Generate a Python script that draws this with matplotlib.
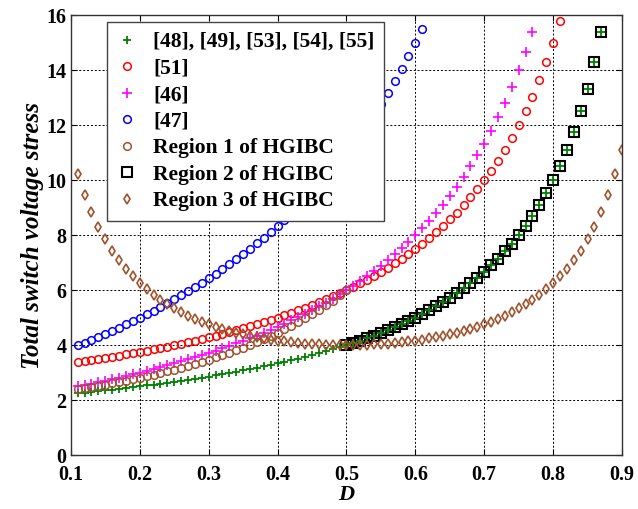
import numpy as np
import matplotlib
matplotlib.use('Agg')
from matplotlib import pyplot as plt

plt.rcParams['font.family'] = ['Liberation Serif', 'DejaVu Serif']
plt.rcParams['font.weight'] = 'bold'

# duty ratio, step 0.01 from 0.11
d_start = 0.11
d_step = 0.01

# [48], [49], [53], [54], [55]  (0.11 ... 0.87)
ref48 = [2.247, 2.273, 2.299, 2.326, 2.353, 2.381, 2.410, 2.439, 2.469, 2.500,
         2.532, 2.564, 2.597, 2.632, 2.667, 2.703, 2.740, 2.778, 2.817, 2.857,
         2.899, 2.941, 2.985, 3.030, 3.077, 3.125, 3.175, 3.226, 3.279, 3.333,
         3.390, 3.448, 3.509, 3.571, 3.636, 3.704, 3.774, 3.846, 3.922, 4.000,
         4.082, 4.167, 4.255, 4.348, 4.444, 4.545, 4.651, 4.762, 4.878, 5.000,
         5.128, 5.263, 5.405, 5.556, 5.714, 5.882, 6.061, 6.250, 6.452, 6.667,
         6.897, 7.143, 7.407, 7.692, 8.000, 8.333, 8.696, 9.091, 9.524, 10.000,
         10.526, 11.111, 11.765, 12.500, 13.333, 14.286, 15.385]

# [51]  (0.11 ... 0.81)
ref51 = [3.371, 3.409, 3.448, 3.488, 3.529, 3.571, 3.614, 3.659, 3.704, 3.750,
         3.797, 3.846, 3.896, 3.947, 4.000, 4.054, 4.110, 4.167, 4.225, 4.286,
         4.348, 4.412, 4.478, 4.545, 4.615, 4.688, 4.762, 4.839, 4.918, 5.000,
         5.085, 5.172, 5.263, 5.357, 5.455, 5.556, 5.660, 5.769, 5.882, 6.000,
         6.122, 6.250, 6.383, 6.522, 6.667, 6.818, 6.977, 7.143, 7.317, 7.500,
         7.692, 7.895, 8.108, 8.333, 8.571, 8.824, 9.091, 9.375, 9.677, 10.000,
         10.345, 10.714, 11.111, 11.538, 12.000, 12.500, 13.043, 13.636, 14.286, 15.000,
         15.789]

# [46]  (0.11 ... 0.77)
ref46 = [2.494, 2.545, 2.598, 2.651, 2.706, 2.762, 2.819, 2.878, 2.938, 3.000,
         3.063, 3.128, 3.195, 3.263, 3.333, 3.405, 3.479, 3.556, 3.634, 3.714,
         3.797, 3.882, 3.970, 4.061, 4.154, 4.250, 4.349, 4.452, 4.557, 4.667,
         4.780, 4.897, 5.018, 5.143, 5.273, 5.407, 5.547, 5.692, 5.843, 6.000,
         6.163, 6.333, 6.511, 6.696, 6.889, 7.091, 7.302, 7.524, 7.756, 8.000,
         8.256, 8.526, 8.811, 9.111, 9.429, 9.765, 10.121, 10.500, 10.903, 11.333,
         11.793, 12.286, 12.815, 13.385, 14.000, 14.667, 15.391]

# [47]  (0.11 ... 0.61)
ref47 = [3.989, 4.091, 4.195, 4.302, 4.412, 4.524, 4.639, 4.756, 4.877, 5.000,
         5.127, 5.256, 5.390, 5.526, 5.667, 5.811, 5.959, 6.111, 6.268, 6.429,
         6.594, 6.765, 6.940, 7.121, 7.308, 7.500, 7.698, 7.903, 8.115, 8.333,
         8.559, 8.793, 9.035, 9.286, 9.545, 9.815, 10.094, 10.385, 10.686, 11.000,
         11.327, 11.667, 12.021, 12.391, 12.778, 13.182, 13.605, 14.048, 14.512, 15.000,
         15.513]

# Region 1 of HGIBC  (0.11 ... 0.50)
region1 = [2.386, 2.428, 2.471, 2.515, 2.561, 2.608, 2.656, 2.707, 2.759, 2.813,
           2.868, 2.926, 2.985, 3.047, 3.111, 3.178, 3.246, 3.318, 3.392, 3.469,
           3.550, 3.633, 3.720, 3.811, 3.905, 4.004, 4.107, 4.214, 4.327, 4.444,
           4.568, 4.697, 4.832, 4.974, 5.124, 5.281, 5.447, 5.621, 5.806, 6.000]

# Region 2 of HGIBC  (0.50 ... 0.87)
region2 = [4.000, 4.082, 4.167, 4.255, 4.348, 4.444, 4.545, 4.651, 4.762, 4.878,
           5.000, 5.128, 5.263, 5.405, 5.556, 5.714, 5.882, 6.061, 6.250, 6.452,
           6.667, 6.897, 7.143, 7.407, 7.692, 8.000, 8.333, 8.696, 9.091, 9.524,
           10.000, 10.526, 11.111, 11.765, 12.500, 13.333, 14.286, 15.385]

# Region 3 of HGIBC  (0.11 ... 0.90)
region3 = [10.215, 9.470, 8.842, 8.306, 7.843, 7.440, 7.087, 6.775, 6.498, 6.250,
           6.028, 5.828, 5.647, 5.482, 5.333, 5.198, 5.074, 4.960, 4.857, 4.762,
           4.675, 4.596, 4.523, 4.456, 4.396, 4.340, 4.290, 4.244, 4.203, 4.167,
           4.134, 4.105, 4.080, 4.058, 4.040, 4.026, 4.014, 4.006, 4.002, 4.000,
           4.002, 4.006, 4.014, 4.026, 4.040, 4.058, 4.080, 4.105, 4.134, 4.167,
           4.203, 4.244, 4.290, 4.340, 4.396, 4.456, 4.523, 4.596, 4.675, 4.762,
           4.857, 4.960, 5.074, 5.198, 5.333, 5.482, 5.647, 5.828, 6.028, 6.250,
           6.498, 6.775, 7.087, 7.440, 7.843, 8.306, 8.842, 9.470, 10.215, 11.111]

labels = ['[48], [49], [53], [54], [55]', '[51]', '[46]', '[47]',
          'Region 1 of HGIBC', 'Region 2 of HGIBC', 'Region 3 of HGIBC']


def d_axis(values, first=d_start):
    return first + d_step * np.arange(len(values))


green = '#008000'
brown = '#a0522d'

fig = plt.figure(figsize=(6.38, 5.09), dpi=100)
ax = fig.add_axes([0.111, 0.106, 0.864, 0.864])

ms = 5.5
h2, = ax.plot(d_axis(region2, 0.50), region2, 's', mfc='none', mec='black',
              ms=6.5, mew=1.5, label=labels[5])
h1, = ax.plot(d_axis(ref48), ref48, '+', color=green, ms=6, mew=1.3, label=labels[0])
hr, = ax.plot(d_axis(ref51), ref51, 'o', mfc='none', mec='red', ms=ms, mew=1.1, label=labels[1])
hm, = ax.plot(d_axis(ref46), ref46, '+', color='magenta', ms=7, mew=1.2, label=labels[2])
hb, = ax.plot(d_axis(ref47), ref47, 'o', mfc='none', mec='blue', ms=ms, mew=1.1, label=labels[3])
hc, = ax.plot(d_axis(region1), region1, 'o', mfc='none', mec=brown, ms=ms, mew=1.1, label=labels[4])
hd, = ax.plot(d_axis(region3), region3, 'd', mfc='none', mec=brown, ms=5.5, mew=1.2, label=labels[6])

ax.set_xlim(0.1, 0.9)
ax.set_ylim(0, 16)
ax.set_xticks(np.arange(0.1, 0.91, 0.1))
ax.set_xticklabels(['%.1f' % v for v in np.arange(0.1, 0.91, 0.1)])
ax.set_yticks(range(0, 17, 2))
ax.tick_params(direction='in', length=4, labelsize=14.5, pad=3, top=True, right=True)
ax.tick_params(axis='x', pad=7)
for lab in ax.get_xticklabels() + ax.get_yticklabels():
    lab.set_fontweight('bold')
ax.grid(True, color='black', linestyle=(0, (2, 2)), linewidth=0.7)
for sp in ax.spines.values():
    sp.set_linewidth(1.0)
    sp.set_color('#333333')

ax.set_xlabel('D', fontsize=16, fontweight='bold', fontstyle='italic', labelpad=0)
ax.set_ylabel('Total switch voltage stress', fontsize=18, fontweight='bold',
              fontstyle='italic', labelpad=2)

leg = ax.legend(handles=[h1, hr, hm, hb, hc, h2, hd], loc='upper left',
                bbox_to_anchor=(0.065, 0.984), borderaxespad=0, fancybox=False,
                framealpha=1, edgecolor='#444444', handlelength=1.0,
                handletextpad=0.7, labelspacing=0.3, borderpad=0.45,
                prop={'size': 15.5, 'weight': 'bold'})
leg.get_frame().set_linewidth(1.0)
leg.set_zorder(10)

fig.savefig('out.png', dpi=100)
